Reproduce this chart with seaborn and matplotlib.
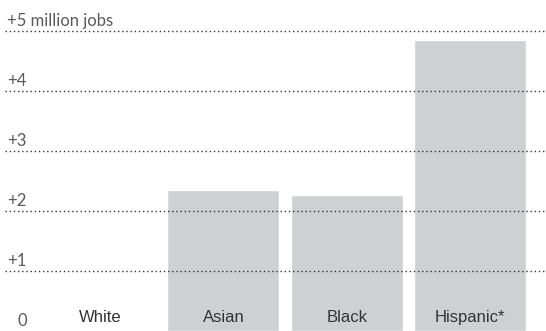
"""Job gains by race/ethnicity bar chart"""
import matplotlib
matplotlib.use("Agg")
import matplotlib.pyplot as plt
import seaborn as sns
import pandas as pd

groups = ["White", "Asian", "Black", "Hispanic*"]
jobs = [0.0, 2.36, 2.275, 4.86]
grid_values = [1, 2, 3, 4, 5]
grid_labels = ["+1", "+2", "+3", "+4", "+5 million jobs"]


def make_plot():
    """Make the chart"""
    sns.set_style("white")
    plt.rcParams["font.family"] = ["Liberation Sans", "DejaVu Sans"]

    df = pd.DataFrame({"group": groups, "jobs": jobs})
    fig = plt.figure(figsize=(5.46, 3.31), dpi=100)
    ax = fig.add_axes([0, 0, 1, 1])
    sns.barplot(
        data=df, x="group", y="jobs", color="#cfd0d2", saturation=1,
        width=0.908, ax=ax, zorder=1,
    )
    ax.set_xlim(-0.811, 3.616)
    ax.set_ylim(0, 5.525)
    ax.axis("off")

    for val, lab in zip(grid_values, grid_labels):
        ax.axhline(val, xmin=5 / 546, xmax=1, color="#333333", lw=1.0,
                   ls=(0, (1, 2)), zorder=3)
        ax.annotate(lab, xy=(0, val), xycoords=("axes fraction", "data"),
                    xytext=(5, 4), textcoords="offset points",
                    ha="left", va="baseline", fontsize=12,
                    family=["Lato", "DejaVu Sans"], color="#5a5a5a")

    ax.annotate("0", xy=(0, 0), xycoords=("axes fraction", "data"),
                xytext=(12.3, 3.7), textcoords="offset points",
                ha="left", va="baseline", fontsize=12,
                family=["Lato", "DejaVu Sans"], color="#5a5a5a")

    for i, g in enumerate(groups):
        ax.annotate(g, xy=(i, 0), xytext=(0, 6.8), textcoords="offset points",
                    ha="center", va="baseline", fontsize=12, color="#333333",
                    zorder=4)

    fig.savefig("out.png", dpi=100)


if __name__ == "__main__":
    make_plot()
